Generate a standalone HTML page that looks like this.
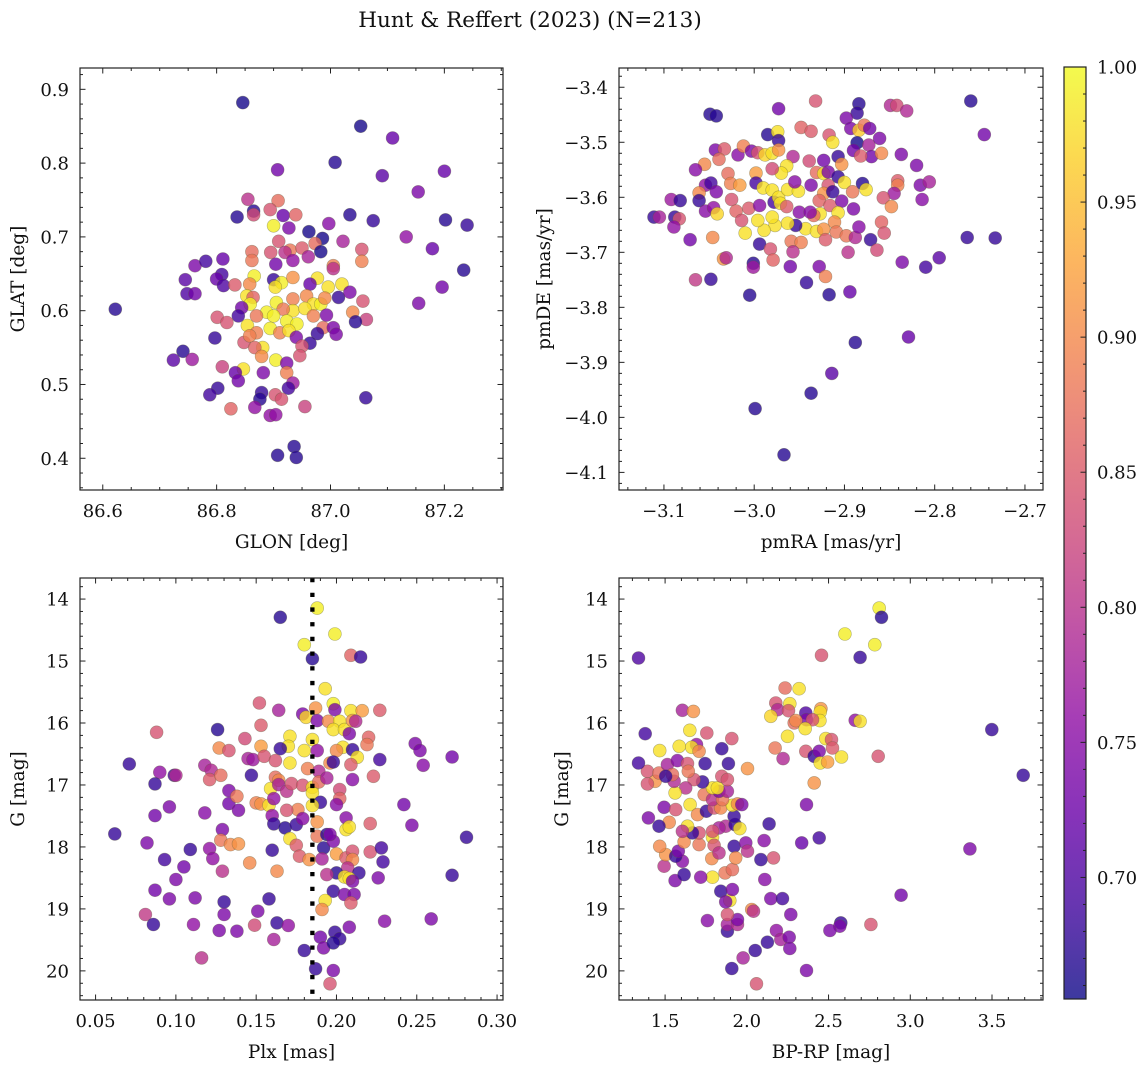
<!DOCTYPE html>
<html><head><meta charset="utf-8">
<style>
html,body{margin:0;padding:0;background:#fff;}
svg{display:block;font-family:"DejaVu Serif","Liberation Serif",serif;}
</style></head>
<body>
<svg id="chart" width="1148" height="1067" viewBox="0 0 1148 1067" xmlns="http://www.w3.org/2000/svg">
<text x="530" y="27" font-size="21.5" text-anchor="middle" fill="#111">Hunt &amp; Reffert (2023) (N=213)</text>
</svg>
<script>
// ---------- Panel 1: GLON vs GLAT ----------
const p1_glon=[86.846,87.053,87.109,87.008,86.907,87.091,87.200,87.154,86.855,86.908,86.836,86.865,86.865,86.894,86.917,86.939,86.927,86.900,87.034,87.075,86.997,87.202,87.240,86.962,86.986,86.973,86.983,87.022,87.133,86.909,87.179,87.055,87.055,87.234,87.196,87.155,86.622,86.862,86.862,86.895,86.929,86.950,86.920,86.961,86.934,86.904,87.005,87.005,86.762,86.781,86.811,86.809,86.800,86.745,86.748,86.762,86.812,86.832,86.866,86.858,86.900,86.914,86.934,86.903,86.977,86.996,87.020,86.964,86.853,86.864,86.905,86.934,86.958,86.970,86.983,86.990,87.014,87.034,87.057,87.039,87.063,87.044,86.859,86.844,86.838,86.888,86.870,86.934,86.955,86.917,86.970,86.993,86.900,86.801,86.818,86.854,86.870,86.894,86.911,86.923,86.941,86.927,86.987,87.005,87.010,86.977,86.797,86.848,86.858,86.940,86.964,86.881,86.867,86.950,86.946,86.879,86.904,86.923,86.741,86.724,86.757,86.810,86.847,86.833,86.838,86.882,86.923,86.934,86.926,86.802,86.788,86.879,86.876,86.903,86.914,86.867,86.825,86.955,86.894,86.904,87.062,86.936,86.907,86.940];
const p1_glat=[0.882,0.850,0.834,0.801,0.791,0.783,0.789,0.761,0.751,0.749,0.727,0.735,0.730,0.737,0.729,0.730,0.712,0.715,0.730,0.722,0.718,0.723,0.716,0.707,0.698,0.691,0.680,0.694,0.700,0.694,0.684,0.683,0.667,0.655,0.632,0.610,0.602,0.680,0.668,0.679,0.682,0.685,0.679,0.673,0.668,0.663,0.661,0.657,0.661,0.667,0.670,0.649,0.643,0.642,0.623,0.623,0.634,0.635,0.647,0.636,0.642,0.638,0.645,0.632,0.644,0.632,0.636,0.636,0.620,0.618,0.611,0.616,0.620,0.609,0.609,0.617,0.618,0.625,0.613,0.598,0.588,0.585,0.609,0.604,0.593,0.598,0.593,0.600,0.603,0.602,0.593,0.594,0.593,0.591,0.584,0.580,0.570,0.576,0.570,0.586,0.582,0.573,0.577,0.577,0.568,0.569,0.563,0.557,0.566,0.564,0.556,0.550,0.550,0.552,0.539,0.538,0.533,0.529,0.545,0.533,0.534,0.524,0.521,0.516,0.505,0.516,0.516,0.502,0.495,0.495,0.486,0.489,0.480,0.486,0.480,0.469,0.467,0.470,0.458,0.459,0.482,0.416,0.404,0.401];
const p1_prob=[.66,.66,.72,.67,.73,.71,.72,.74,.80,.87,.67,.67,.83,.84,.72,.86,.74,.99,.67,.68,.75,.67,.68,.66,.66,.87,.66,.78,.76,.84,.72,.84,.89,.67,.73,.74,.67,.87,.88,.84,.88,.85,.80,.78,.76,.73,.89,.80,.74,.69,.72,.69,.72,.71,.70,.73,.70,.85,.99,.90,.68,.99,.91,.98,.98,.98,.98,.72,.98,.86,.99,.89,.90,.98,.99,.90,.68,.74,.84,.90,.82,.67,.99,.73,.69,.99,.88,.98,.98,.88,.89,.74,.99,.84,.84,.98,.89,.99,.89,.99,.99,.98,.87,.74,.74,.68,.68,.84,.89,.74,.68,.98,.86,.84,.84,.90,.99,.74,.67,.71,.77,.82,.98,.72,.73,.74,.89,.77,.69,.68,.69,.68,.67,.84,.84,.76,.86,.82,.76,.76,.68,.67,.67,.67];

// ---------- Panel 2: pmRA vs pmDE ----------
const p2_pmra=[-2.932,-2.973,-3.049,-3.042,-2.884,-2.886,-2.849,-2.842,-2.831,-2.760,-2.745,-2.898,-2.893,-2.884,-2.878,-2.872,-2.948,-2.937,-2.917,-2.913,-2.985,-2.974,-2.973,-2.886,-2.890,-2.873,-2.870,-2.882,-2.861,-2.859,-2.837,-2.820,-3.043,-3.033,-3.039,-3.055,-3.065,-3.018,-3.012,-3.003,-2.996,-2.988,-2.980,-2.973,-2.957,-2.939,-2.923,-2.907,-2.903,-2.964,-2.970,-2.980,-2.998,-3.029,-3.026,-2.998,-2.990,-2.980,-3.016,-3.054,-3.048,-3.042,-3.061,-3.061,-3.092,-3.082,-3.111,-3.105,-3.088,-3.083,-3.089,-3.071,-3.054,-3.045,-3.041,-3.025,-3.020,-3.014,-3.006,-2.994,-2.978,-2.973,-2.971,-2.963,-2.951,-2.955,-2.964,-2.950,-2.937,-2.931,-2.923,-2.918,-2.907,-2.900,-2.918,-2.923,-2.913,-2.928,-2.916,-2.903,-2.891,-2.880,-2.876,-2.890,-2.907,-2.911,-2.927,-2.934,-2.938,-2.943,-2.931,-2.923,-2.909,-2.898,-2.888,-2.884,-2.871,-2.859,-2.856,-2.864,-2.896,-2.921,-2.954,-2.963,-2.977,-2.980,-2.989,-2.996,-3.010,-2.994,-2.982,-2.979,-2.959,-2.948,-2.957,-3.046,-3.034,-3.031,-3.065,-3.048,-3.001,-3.001,-2.960,-2.928,-2.921,-2.942,-2.917,-2.894,-3.005,-2.836,-2.810,-2.795,-2.841,-2.841,-2.845,-2.857,-2.848,-2.816,-2.806,-2.814,-2.764,-2.733,-2.888,-2.829,-2.914,-2.937,-2.999,-2.967];
const p2_pmde=[-3.425,-3.439,-3.449,-3.452,-3.430,-3.447,-3.433,-3.433,-3.443,-3.425,-3.486,-3.456,-3.475,-3.478,-3.469,-3.475,-3.473,-3.480,-3.487,-3.500,-3.486,-3.481,-3.497,-3.501,-3.515,-3.505,-3.526,-3.525,-3.493,-3.520,-3.522,-3.542,-3.514,-3.512,-3.531,-3.540,-3.550,-3.523,-3.507,-3.516,-3.519,-3.523,-3.520,-3.514,-3.526,-3.534,-3.533,-3.526,-3.540,-3.543,-3.556,-3.548,-3.556,-3.557,-3.575,-3.574,-3.583,-3.587,-3.578,-3.578,-3.574,-3.590,-3.592,-3.606,-3.604,-3.606,-3.636,-3.636,-3.636,-3.639,-3.654,-3.677,-3.625,-3.619,-3.630,-3.604,-3.625,-3.642,-3.620,-3.615,-3.609,-3.600,-3.611,-3.586,-3.589,-3.572,-3.617,-3.627,-3.578,-3.555,-3.557,-3.554,-3.563,-3.573,-3.578,-3.593,-3.590,-3.606,-3.615,-3.607,-3.590,-3.575,-3.586,-3.621,-3.628,-3.645,-3.630,-3.633,-3.627,-3.657,-3.662,-3.658,-3.663,-3.670,-3.673,-3.654,-3.677,-3.645,-3.665,-3.696,-3.700,-3.677,-3.651,-3.647,-3.651,-3.636,-3.660,-3.642,-3.665,-3.685,-3.694,-3.714,-3.680,-3.682,-3.699,-3.673,-3.712,-3.710,-3.750,-3.749,-3.720,-3.727,-3.726,-3.726,-3.744,-3.755,-3.777,-3.772,-3.778,-3.718,-3.727,-3.710,-3.570,-3.578,-3.593,-3.601,-3.617,-3.578,-3.572,-3.604,-3.673,-3.674,-3.864,-3.854,-3.920,-3.956,-3.984,-4.068];
const p2_prob=[.84,.73,.67,.67,.67,.68,.79,.83,.79,.67,.73,.74,.74,.96,.88,.73,.86,.85,.84,.98,.67,.98,.68,.66,.73,.78,.73,.85,.74,.90,.74,.74,.74,.85,.87,.90,.75,.75,.89,.74,.84,.97,.98,.91,.79,.83,.73,.68,.91,.98,.98,.83,.92,.87,.89,.69,.98,.98,.92,.76,.69,.74,.90,.68,.77,.68,.68,.78,.68,.84,.76,.73,.75,.76,.97,.84,.86,.84,.85,.75,.69,.98,.98,.98,.98,.75,.85,.75,.74,.87,.98,.74,.68,.98,.84,.91,.68,.86,.85,.74,.88,.67,.98,.74,.98,.90,.98,.87,.75,.98,.98,.91,.88,.88,.79,.75,.68,.86,.84,.83,.80,.85,.68,.98,.98,.98,.98,.98,.98,.68,.84,.86,.88,.89,.80,.90,.91,.79,.81,.68,.67,.77,.73,.74,.89,.68,.67,.72,.67,.74,.69,.71,.85,.89,.77,.84,.90,.74,.78,.75,.68,.68,.67,.72,.71,.67,.67,.67];

// ---------- Panel 3: Plx vs G ----------
const p3_plx=[0.188,0.165,0.199,0.180,0.185,0.209,0.215,0.193,0.198,0.199,0.152,0.164,0.179,0.181,0.187,0.188,0.195,0.202,0.198,0.205,0.209,0.216,0.210,0.212,0.208,0.227,0.153,0.126,0.088,0.143,0.153,0.171,0.170,0.165,0.180,0.185,0.188,0.204,0.200,0.210,0.213,0.220,0.219,0.227,0.127,0.133,0.145,0.148,0.155,0.162,0.171,0.182,0.189,0.196,0.198,0.209,0.210,0.223,0.249,0.252,0.254,0.272,0.071,0.090,0.099,0.100,0.118,0.122,0.121,0.128,0.147,0.087,0.133,0.133,0.138,0.139,0.150,0.153,0.158,0.159,0.162,0.164,0.164,0.169,0.172,0.179,0.185,0.185,0.189,0.194,0.202,0.202,0.200,0.190,0.185,0.176,0.169,0.161,0.160,0.161,0.168,0.175,0.179,0.188,0.206,0.206,0.208,0.221,0.242,0.247,0.281,0.062,0.082,0.087,0.096,0.118,0.129,0.128,0.134,0.139,0.109,0.121,0.123,0.093,0.105,0.100,0.129,0.146,0.163,0.160,0.171,0.175,0.177,0.183,0.188,0.192,0.191,0.194,0.198,0.196,0.200,0.206,0.210,0.210,0.207,0.221,0.228,0.229,0.214,0.200,0.194,0.205,0.208,0.210,0.226,0.198,0.205,0.211,0.209,0.193,0.191,0.158,0.087,0.096,0.112,0.130,0.130,0.151,0.081,0.086,0.111,0.127,0.138,0.149,0.163,0.170,0.161,0.116,0.180,0.190,0.192,0.199,0.202,0.198,0.208,0.230,0.259,0.272,0.187,0.198,0.196];
const p3_g=[14.145,14.295,14.564,14.736,14.962,14.908,14.935,15.446,15.688,15.785,15.677,15.795,15.854,15.908,15.758,15.962,15.973,15.973,16.107,16.107,15.801,15.801,15.962,15.973,16.172,15.795,16.037,16.107,16.150,16.252,16.376,16.215,16.376,16.414,16.446,16.268,16.446,16.392,16.446,16.430,16.553,16.231,16.349,16.591,16.403,16.446,16.575,16.591,16.537,16.607,16.645,16.736,16.779,16.645,16.629,16.672,16.914,16.860,16.333,16.446,16.682,16.548,16.661,16.795,16.844,16.844,16.682,16.763,16.914,16.844,16.844,16.983,17.091,17.301,17.182,17.408,17.290,17.306,17.328,17.059,16.876,16.924,16.994,17.102,16.978,17.005,17.037,17.128,16.951,16.887,17.075,17.220,17.317,17.279,17.333,17.398,17.408,17.220,17.494,17.629,17.693,17.639,17.543,17.596,17.532,17.720,17.677,17.623,17.317,17.650,17.844,17.790,17.935,17.494,17.354,17.451,17.720,17.892,17.962,17.951,18.042,18.026,18.188,18.204,18.322,18.526,18.392,18.258,18.392,18.053,17.865,17.973,18.150,18.204,17.827,18.016,18.193,17.800,17.908,17.800,18.112,18.177,18.069,18.204,18.338,18.080,18.016,18.241,18.419,18.419,18.446,18.483,18.510,18.553,18.499,18.714,18.768,18.768,18.903,18.865,19.010,18.838,18.698,18.838,18.822,18.887,19.091,19.037,19.091,19.252,19.252,19.349,19.360,19.263,19.225,19.268,19.494,19.790,19.672,19.457,19.629,19.376,19.483,19.548,19.295,19.199,19.161,18.457,19.967,19.994,20.209];
const p3_prob=[.99,.67,.99,.99,.67,.86,.68,.98,.99,.74,.84,.78,.74,.97,.91,.74,.90,.98,.98,.98,.98,.92,.91,.79,.74,.85,.85,.67,.84,.83,.92,.98,.98,.68,.98,.98,.76,.98,.90,.68,.98,.86,.88,.69,.90,.84,.78,.77,.84,.84,.98,.89,.79,.90,.68,.85,.75,.85,.74,.74,.75,.73,.68,.76,.69,.79,.78,.79,.85,.87,.68,.68,.74,.73,.88,.74,.89,.91,.98,.98,.87,.90,.78,.80,.84,.84,.98,.98,.87,.78,.83,.86,.75,.68,.98,.89,.84,.76,.76,.68,.67,.68,.75,.91,.75,.98,.98,.85,.73,.74,.68,.68,.74,.73,.74,.75,.74,.88,.90,.91,.68,.76,.76,.69,.73,.74,.80,.90,.90,.68,.98,.85,.85,.91,.88,.67,.78,.67,.74,.74,.92,.85,.84,.90,.80,.84,.69,.69,.68,.67,.80,.98,.98,.74,.74,.68,.74,.74,.85,.98,.90,.68,.73,.74,.74,.68,.74,.74,.81,.68,.76,.74,.74,.83,.68,.76,.78,.80,.68,.73,.74,.68,.68,.67,.74,.75,.74,.68,.68,.74,.84];

// ---------- Panel 4: BP-RP vs G ----------
const p4_bprp=[2.810,2.824,2.600,2.783,2.457,2.693,1.337,2.234,2.320,2.177,2.263,2.188,2.255,2.147,2.361,2.365,2.453,2.449,2.447,2.402,2.290,2.300,2.357,2.249,2.173,2.222,2.361,2.412,2.443,2.483,2.518,2.524,2.449,2.494,2.579,2.663,2.693,2.804,3.499,3.691,2.412,2.365,2.443,2.336,3.365,2.944,2.759,2.575,2.569,2.508,2.365,2.059,1.908,1.977,2.051,2.126,2.181,2.208,2.259,2.263,2.269,2.147,2.218,2.110,2.163,2.086,2.106,2.136,2.030,2.041,1.759,1.881,1.881,1.943,1.943,1.881,1.896,1.841,1.912,1.871,1.790,1.718,1.867,1.912,1.561,1.616,1.494,1.504,1.467,1.606,1.565,1.581,1.616,1.708,1.790,1.800,1.786,1.830,1.922,1.932,1.994,2.004,1.871,1.928,1.957,1.922,1.830,1.790,1.708,1.667,1.637,1.606,1.525,1.463,1.398,1.494,1.565,1.653,1.698,1.753,1.800,1.840,1.912,1.943,1.969,1.739,1.790,1.851,1.830,1.881,1.790,1.820,1.729,1.677,1.626,1.561,1.555,1.439,1.392,1.392,1.463,1.514,1.575,1.637,1.642,1.545,1.504,1.745,1.847,1.881,1.887,1.337,2.004,1.847,1.908,1.755,1.651,1.692,1.663,1.708,1.586,1.467,1.378,1.606,1.673];
const p4_g=[14.145,14.295,14.564,14.736,14.908,14.941,14.951,15.435,15.446,15.677,15.688,15.785,15.801,15.892,15.838,15.946,15.769,15.822,15.962,15.946,15.999,15.962,16.091,16.215,16.403,16.575,16.457,16.537,16.457,16.252,16.268,16.403,16.645,16.629,16.548,15.957,15.973,16.537,16.107,16.844,16.967,17.317,17.854,17.935,18.032,18.779,19.252,19.225,19.279,19.349,19.994,20.209,19.962,19.790,19.672,19.537,19.349,19.494,19.457,19.639,19.091,18.833,18.833,18.526,18.177,18.204,17.897,17.629,19.010,19.037,19.188,19.360,19.252,19.252,19.172,19.091,18.865,18.714,18.687,18.887,18.489,18.489,18.419,18.365,18.543,18.446,18.311,18.123,17.989,18.231,18.150,18.069,17.919,17.962,17.844,17.973,18.188,18.096,17.989,18.177,17.935,18.069,17.666,17.639,17.704,17.505,17.693,17.747,17.774,17.774,17.666,17.747,17.602,17.666,17.532,17.360,17.398,17.317,17.478,17.424,17.371,17.371,17.328,17.306,17.317,17.156,17.236,17.236,17.102,17.102,17.048,17.048,16.951,16.914,17.048,17.128,16.940,16.940,16.983,16.779,16.806,16.672,16.607,16.655,16.779,16.833,16.860,16.655,16.860,16.914,16.655,16.645,16.736,16.414,16.252,16.161,16.118,16.349,16.392,16.457,16.376,16.446,16.172,15.795,15.812];
const p4_prob=[.99,.67,.99,.99,.84,.68,.70,.87,.98,.84,.98,.79,.84,.97,.70,.74,.91,.98,.98,.84,.87,.90,.98,.98,.88,.79,.84,.68,.74,.98,.84,.85,.98,.92,.98,.76,.98,.84,.68,.68,.91,.74,.69,.72,.74,.73,.84,.68,.74,.74,.74,.84,.68,.78,.68,.68,.76,.78,.74,.74,.74,.74,.69,.75,.84,.68,.75,.68,.90,.80,.75,.68,.78,.79,.74,.84,.98,.68,.74,.74,.98,.75,.88,.87,.74,.68,.80,.91,.90,.75,.68,.74,.90,.88,.98,.84,.90,.80,.68,.90,.75,.80,.79,.68,.98,.68,.78,.84,.84,.68,.98,.80,.90,.68,.74,.74,.84,.98,.90,.68,.84,.90,.98,.90,.74,.88,.80,.88,.74,.78,.98,.98,.68,.84,.80,.98,.79,.91,.84,.84,.87,.78,.75,.84,.88,.87,.68,.68,.84,.84,.68,.69,.91,.68,.84,.84,.98,.76,.98,.90,.98,.98,.69,.78,.91];

// Reference lines / tick labels
const p3_refPlx=[0.185];
const p1_xticks=[86.6,86.8,87.0,87.2], p1_yticks=[0.4,0.5,0.6,0.7,0.8,0.9];
const p2_xticks=[-3.1,-3.0,-2.9,-2.8,-2.7], p2_yticks=[-4.1,-4.0,-3.9,-3.8,-3.7,-3.6,-3.5,-3.4];
const p3_xticks=[0.05,0.10,0.15,0.20,0.25,0.30], p3_yticks=[14,15,16,17,18,19,20];
const p4_xticks=[1.5,2.0,2.5,3.0,3.5], p4_yticks=[14,15,16,17,18,19,20];
const cb_ticks=[0.70,0.75,0.80,0.85,0.90,0.95,1.00];

const NS="http://www.w3.org/2000/svg";
const svg=document.getElementById('chart');
const VMIN=0.655, VMAX=1.0;
const TICKFS=18, LABFS=18.5;
const plasma=[[13,8,135],[65,4,157],[106,0,168],[143,13,164],[177,42,144],[204,71,120],[225,100,98],[242,132,75],[252,166,54],[252,206,37],[240,249,33]];
function cmap(v){let t=(v-VMIN)/(VMAX-VMIN);t=Math.max(0,Math.min(1,t));const f=t*10,i=Math.min(9,Math.floor(f)),r=f-i;const a=plasma[i],b=plasma[i+1];return 'rgb('+[0,1,2].map(k=>Math.round(a[k]+(b[k]-a[k])*r)).join(',')+')';}
function mk(tag,attrs,parent){const e=document.createElementNS(NS,tag);for(const k in attrs)e.setAttribute(k,attrs[k]);(parent||svg).appendChild(e);return e;}
function fmt(v,d){const s=Math.abs(v).toFixed(d);return (v<0?'\u2212':'')+s;}

function panel(o){
  const g=mk('g',{});
  
  
  const sx=v=>o.x0+(v-o.xd[0])/(o.xd[1]-o.xd[0])*(o.x1-o.x0);
  const sy=v=>o.inv? o.y0+(v-o.yd[1])/(o.yd[0]-o.yd[1])*(o.y1-o.y0) : o.y1-(v-o.yd[0])/(o.yd[1]-o.yd[0])*(o.y1-o.y0);
  const clipId='clip-'+o.name;
  const cp=mk('clipPath',{id:clipId},g);
  mk('rect',{x:o.x0,y:o.y0,width:o.x1-o.x0,height:o.y1-o.y0},cp);
  const pts=mk('g',{'clip-path':'url(#'+clipId+')'},g);
  
  
  for(let i=0;i<o.xs.length;i++){
    const c=mk('circle',{cx:sx(o.xs[i]).toFixed(1),cy:sy(o.ys[i]).toFixed(1),r:6.5,fill:cmap(o.cs[i]),'fill-opacity':0.8,stroke:'rgba(90,90,60,0.45)','stroke-width':0.6},pts);
    
    
  }
  if(o.vline){o.vline.forEach(v=>{const l=mk('line',{x1:sx(v),x2:sx(v),y1:o.y0,y2:o.y1,stroke:'#000','stroke-width':4.3,'stroke-dasharray':'4.3 10.4'},pts);
    
    });}
  const fr=mk('rect',{x:o.x0,y:o.y0,width:o.x1-o.x0,height:o.y1-o.y0,fill:'none',stroke:'#222','stroke-width':1.2},g);
  
  
  const tk=mk('g',{stroke:'#222','stroke-width':1},g);
  const lo=(a,b)=>Math.min(a,b),hi=(a,b)=>Math.max(a,b);
  const xmin=lo(...o.xd),xmax=hi(...o.xd),ymin=lo(...o.yd),ymax=hi(...o.yd);
  for(let v=Math.ceil(xmin/o.xmin-1e-6)*o.xmin;v<=xmax+1e-9;v+=o.xmin){
    const isMaj=Math.abs(v/o.xmaj-Math.round(v/o.xmaj))<1e-4;const L=isMaj?5.5:3;const x=sx(v);
    mk('line',{x1:x,x2:x,y1:o.y1,y2:o.y1-L},tk);mk('line',{x1:x,x2:x,y1:o.y0,y2:o.y0+L},tk);}
  for(let v=Math.ceil(ymin/o.ymin-1e-6)*o.ymin;v<=ymax+1e-9;v+=o.ymin){
    const isMaj=Math.abs(v/o.ymaj-Math.round(v/o.ymaj))<1e-4;const L=isMaj?5.5:3;const y=sy(v);
    mk('line',{x1:o.x0,x2:o.x0+L,y1:y,y2:y},tk);mk('line',{x1:o.x1,x2:o.x1-L,y1:y,y2:y},tk);}
  o.xt.forEach(v=>{const t=mk('text',{x:sx(v),y:o.y1+27,'font-size':TICKFS,'text-anchor':'middle',fill:'#111'},g);t.textContent=fmt(v,o.xdp);
    });
  o.yt.forEach(v=>{const t=mk('text',{x:o.x0-11,y:sy(v)+6.5,'font-size':TICKFS,'text-anchor':'end',fill:'#111'},g);t.textContent=fmt(v,o.ydp);
    });
  const xl=mk('text',{x:(o.x0+o.x1)/2,y:o.y1+58,'font-size':LABFS,'text-anchor':'middle',fill:'#111'},g);xl.textContent=o.xlab;
  
  const yx=o.ylx, yy=(o.y0+o.y1)/2;
  const yl=mk('text',{x:yx,y:yy,'font-size':LABFS,'text-anchor':'middle',fill:'#111',transform:'rotate(-90 '+yx+' '+yy+')'},g);yl.textContent=o.ylab;
  
}

panel({name:'panel-glon-glat',x0:80,x1:503,y0:68,y1:490,xd:[86.560,87.303],yd:[0.357,0.9289],xs:p1_glon,ys:p1_glat,cs:p1_prob,xt:p1_xticks,yt:p1_yticks,xdp:1,ydp:1,xmaj:0.2,xmin:0.05,ymaj:0.1,ymin:0.02,xlab:'GLON [deg]',ylab:'GLAT [deg]',ylx:24});
panel({name:'panel-pmra-pmde',x0:619,x1:1043,y0:68,y1:490,xd:[-3.1498,-2.680],yd:[-4.132,-3.365],xs:p2_pmra,ys:p2_pmde,cs:p2_prob,xt:p2_xticks,yt:p2_yticks,xdp:1,ydp:1,xmaj:0.1,xmin:0.02,ymaj:0.1,ymin:0.02,xlab:'pmRA [mas/yr]',ylab:'pmDE [mas/yr]',ylx:550});
panel({name:'panel-plx-g',x0:80,x1:503,y0:578,y1:1000,xd:[0.0403,0.3037],yd:[20.47,13.66],inv:true,xs:p3_plx,ys:p3_g,cs:p3_prob,xt:p3_xticks,yt:p3_yticks,xdp:2,ydp:0,xmaj:0.05,xmin:0.01,ymaj:1,ymin:0.2,xlab:'Plx [mas]',ylab:'G [mag]',ylx:24,vline:p3_refPlx});
panel({name:'panel-bprp-g',x0:619,x1:1043,y0:578,y1:1000,xd:[1.218,3.812],yd:[20.47,13.66],inv:true,xs:p4_bprp,ys:p4_g,cs:p4_prob,xt:p4_xticks,yt:p4_yticks,xdp:1,ydp:0,xmaj:0.5,xmin:0.1,ymaj:1,ymin:0.2,xlab:'BP-RP [mag]',ylab:'G [mag]',ylx:568});

// ---------- Colorbar ----------
(function(){
  const x0=1064,x1=1086,y0=67,y1=999;
  const g=mk('g',{});
  
  
  const defs=mk('defs',{},g);
  const lg=mk('linearGradient',{id:'cbgrad',x1:0,y1:1,x2:0,y2:0},defs);
  for(let i=0;i<=20;i++){const v=VMIN+(VMAX-VMIN)*i/20;mk('stop',{offset:(i/20),'stop-color':cmap(v),'stop-opacity':0.8},lg);}
  mk('rect',{x:x0,y:y0,width:x1-x0,height:y1-y0,fill:'url(#cbgrad)',stroke:'#222','stroke-width':1.2},g);
  const sy=v=>y1-(v-VMIN)/(VMAX-VMIN)*(y1-y0);
  for(let k=66;k<=100;k++){const v=k/100;const maj=(k%5===0);const y=sy(v);
    mk('line',{x1:x1,x2:x1-(maj?5.5:3),y1:y,y2:y,stroke:'#222','stroke-width':1},g);}
  cb_ticks.forEach(v=>{const t=mk('text',{x:x1+11,y:sy(v)+6.5,'font-size':TICKFS,fill:'#111'},g);t.textContent=v.toFixed(2);
    });
})();
</script>
</body></html>
